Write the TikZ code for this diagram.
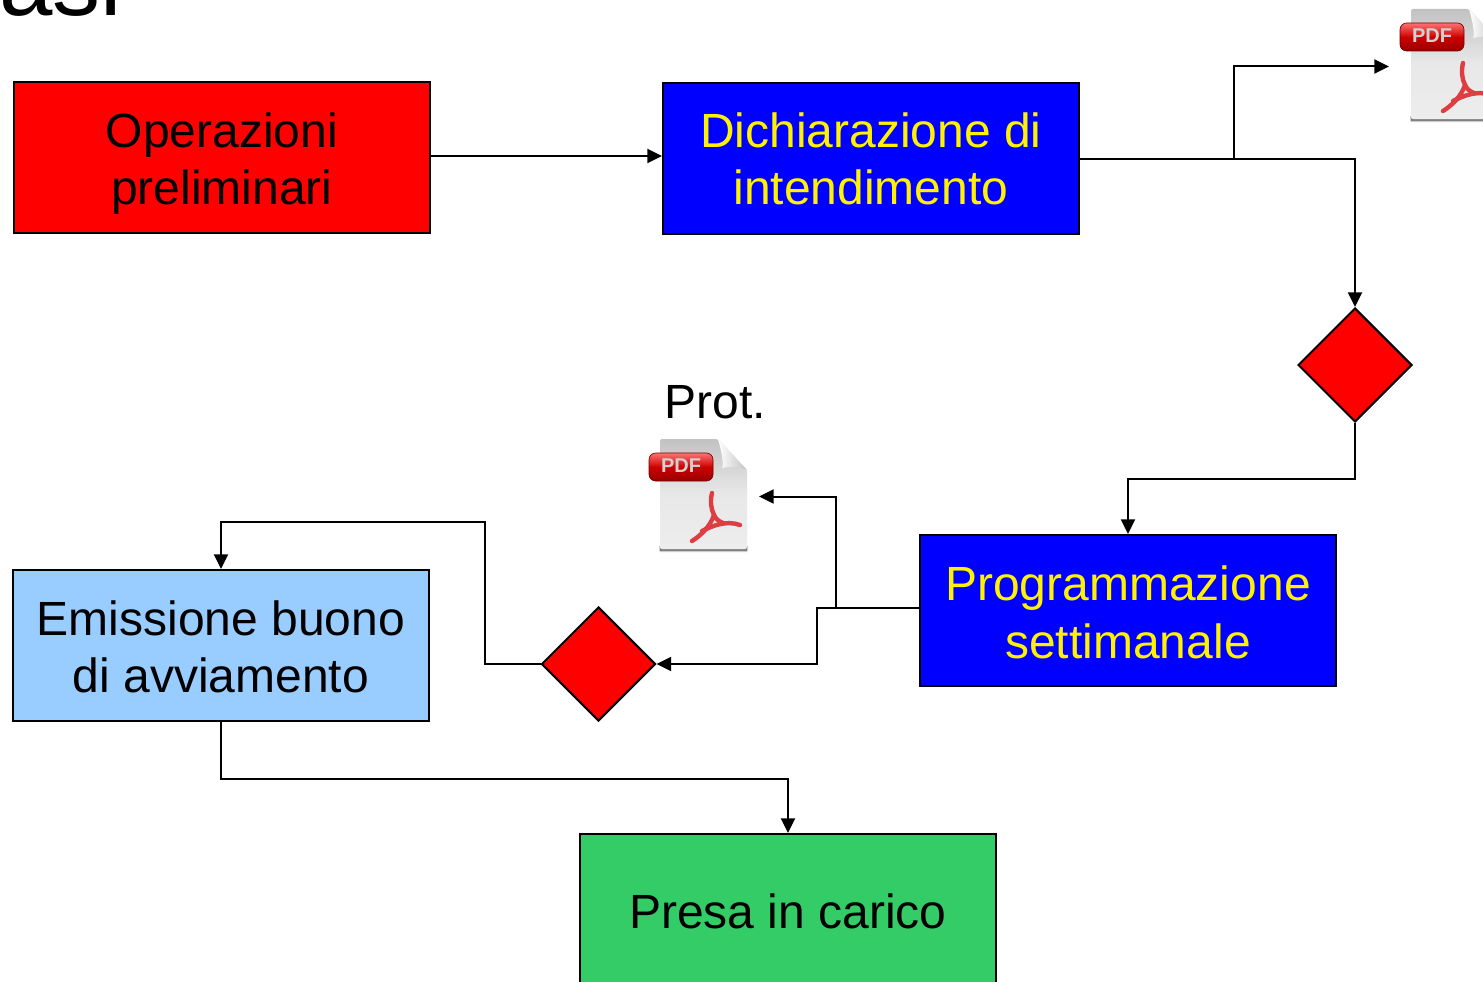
\documentclass[tikz,border=0pt]{standalone}
\usepackage{fontspec}
\setmainfont{Liberation Sans}
\usetikzlibrary{arrows.meta,shapes.geometric}
\definecolor{boxred}{RGB}{255,0,0}
\definecolor{boxblue}{RGB}{0,0,255}
\definecolor{boxsky}{RGB}{153,204,255}
\definecolor{boxgreen}{RGB}{51,204,102}
\definecolor{pdfred}{RGB}{222,62,66}
\newcommand{\flowlines}[2]{\raisebox{#1}[\height][\depth]{\begin{tabular}{@{}c@{}}#2\end{tabular}}}
\tikzset{
  x=0.75pt,y=-0.75pt,
  flowbox/.style={draw=black,line width=1.5pt,minimum width=312pt,minimum height=113.25pt,inner sep=0pt,
    align=center,font=\fontsize{36}{43}\selectfont},
  choice/.style={diamond,draw=black,line width=1.5pt,fill=boxred,minimum width=85.5pt,minimum height=85.5pt,inner sep=0pt,aspect=1},
  conn/.style={draw=black,line width=1.5pt,-{Triangle[length=11pt,width=10.5pt]}},
  pdfsheet/.pic={
    % soft shadow
    \fill[black!20,rounded corners=1pt] (-1,106) rectangle (88,113);
    \fill[black!50] (0,109) rectangle (87,111.5);
    % sheet
    \shade[top color=black!24,bottom color=black!7,middle color=black!9,rounded corners=1.5pt]
      (0,0) -- (58,0) -- (87,31) -- (87,110) -- (0,110) -- cycle;
    % folded corner
    \shade[left color=white,right color=black!24] (58,0) .. controls (62,14) and (64,26) .. (62,29) .. controls (70,27) and (80,28) .. (87,31) -- cycle;
    % acrobat mark
    \begin{scope}[pdfred,line width=3.3pt,line cap=round,line join=round]
      \draw (52,54) .. controls (50,62) and (51,70) .. (54,76)
        .. controls (50,88) and (40,97) .. (32,102);
      \draw (42,92) .. controls (52,87) and (66,81) .. (80,86);
      \draw (54,76) .. controls (56,80) and (58,82) .. (63,84);
    \end{scope}
    % badge
    \shade[rounded corners=5pt,draw=red!45!black,line width=0.5pt,top color=red!55!white,bottom color=red!60!black,middle color=red!80!black]
      (-11,14) rectangle (53,42);
    \node[text=white!82!black,inner sep=0pt,font=\bfseries\fontsize{15}{15}\selectfont] at (21,27) {PDF};
  }
}
\begin{document}
\begin{tikzpicture}
\clip (0,0) rectangle (1483,981);
\fill[white] (0,0) rectangle (1483,981);

\node[anchor=base west,inner sep=0pt,font=\fontsize{72}{72}\selectfont] (title) at (-1,16) {asi};

\node[flowbox,fill=boxred] (oper) at (222,157.5) {\flowlines{-5.3pt}{Operazioni\\preliminari}};
\node[flowbox,fill=boxblue,text=yellow] (dich) at (871,158.5) {\flowlines{-4.7pt}{Dichiarazione di\\intendimento}};
\node[choice] (choiceA) at (1355,365) {};
\node[flowbox,fill=boxblue,text=yellow] (prog) at (1128,610.5) {\flowlines{-5.6pt}{Programmazione\\settimanale}};
\node[choice] (choiceB) at (598.5,664) {};
\node[flowbox,fill=boxsky] (emis) at (221,645.5) {\flowlines{-5.3pt}{Emissione buono\\di avviamento}};
\node[flowbox,fill=boxgreen] (presa) at (788,909.5) {\flowlines{-5.6pt}{Presa in carico}};
\node[inner sep=0pt,font=\fontsize{36}{43}\selectfont] (prot) at (715,402) {Prot.};

\pic at (660,439) {pdfsheet};
\pic at (1411,9) {pdfsheet};

\coordinate (pdfA) at (1389,66.5);
\coordinate (pdfB) at (759,496.5);
\coordinate (forkA) at (1234,158.5);
\coordinate (forkB) at (836,608);
\coordinate (entry) at ([yshift=1.9pt]dich.west);

\draw[conn] (oper.east |- entry) -- (entry);
\draw[conn] (dich.east) -| (choiceA.north);
\draw[conn] (forkA) |- (pdfA);
\draw[conn] (choiceA.south) -- ++(0,56) -| (prog.north);
\draw[conn] (prog.west |- forkB) -- ++(-102,0) |- (choiceB.east);
\draw[conn] (forkB) |- (pdfB);
\draw[conn] (choiceB.west) -- ++(-56,0) -- ++(0,-142) -| (emis.north);
\draw[conn] (emis.south) -- ++(0,57) -| (presa.north);
\end{tikzpicture}
\end{document}
